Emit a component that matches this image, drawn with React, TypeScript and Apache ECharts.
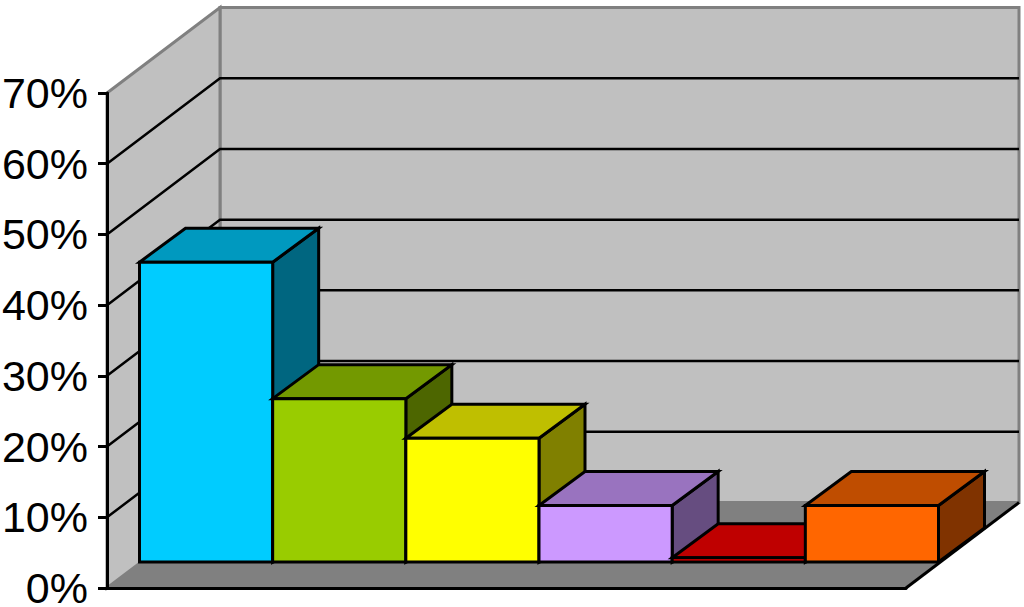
import React, { useEffect, useRef } from "react";
import * as echarts from "echarts";

const categories = ["A", "B", "C", "D", "E", "F"];
const values = [42.4, 23.1, 17.5, 8.0, 0.6, 8.0];
const frontColors = ["#00CCFF", "#99CC00", "#FFFF00", "#CC99FF", "#EE0000", "#FF6600"];
const topColors = ["#0099BF", "#739900", "#BFBF00", "#9973BF", "#BF0000", "#BF4D00"];
const sideColors = ["#006680", "#4D6600", "#808000", "#664D80", "#800000", "#803300"];
const gridValues = [10, 20, 30, 40, 50, 60];

const WALL_DX = 113;
const WALL_DY = -85.5;
const BAR_DX = 32.5;
const BAR_DY = -26;
const BAR_DEPTH_X = 46;
const BAR_DEPTH_Y = -34;

const poly = (points: number[][], fill: string, stroke: string, lineWidth = 3) => ({
  type: "polygon",
  shape: { points },
  style: { fill, stroke, lineWidth, lineJoin: "miter" },
});

export default function App() {
  const ref = useRef<HTMLDivElement>(null);
  useEffect(() => {
    const chart = echarts.init(ref.current!, null, { renderer: "svg" });
    chart.setOption({
      animation: false,
      backgroundColor: "#ffffff",
      grid: { left: 107, top: 93, width: 799, height: 495, outerBoundsMode: "none", containLabel: false },
      xAxis: {
        type: "category",
        data: categories,
        z: 5,
        axisLine: { show: true, lineStyle: { color: "#000", width: 3 } },
        axisTick: { show: false },
        axisLabel: { show: false },
        splitLine: { show: false },
      },
      yAxis: {
        type: "value",
        min: 0,
        max: 70,
        interval: 10,
        z: 5,
        axisLine: { show: true, lineStyle: { color: "#000", width: 3 } },
        axisTick: { show: true, length: 9, lineStyle: { color: "#000", width: 3 } },
        axisLabel: {
          formatter: "{value}%",
          fontFamily: "Liberation Sans",
          fontSize: 43,
          color: "#000",
          margin: 19,
          verticalAlign: "middle",
          lineHeight: 34,
          padding: [3, 0, 0, 0],
        },
        splitLine: { show: false },
      },
      series: [
        {
          type: "custom",
          z: 1,
          clip: false,
          silent: true,
          data: [[0, 0]],
          renderItem: (_p: any, api: any) => {
            const band = api.size([1, 0])[0];
            const p0 = api.coord([0, 0]);
            const p1 = api.coord([categories.length - 1, 70]);
            const l = p0[0] - band / 2;
            const r = p1[0] + band / 2;
            const b = p0[1];
            const t = p1[1];
            const bl = l + WALL_DX;
            const br = r + WALL_DX;
            const by = b + WALL_DY;
            const ty = t + WALL_DY;
            return {
              type: "group",
              children: [
                poly([[bl, ty], [br, ty], [br, by], [bl, by]], "#C0C0C0", "#808080"),
                poly([[l, t], [bl, ty], [bl, by], [l, b]], "#C0C0C0", "#808080"),
                {
                  type: "polygon",
                  shape: { points: [[l, b], [r, b], [br, by], [bl, by]] },
                  style: { fill: "#808080", stroke: "#808080", lineWidth: 1 },
                },
                {
                  type: "line",
                  shape: { x1: r, y1: b, x2: br, y2: by },
                  style: { stroke: "#000", lineWidth: 3 },
                },
              ],
            };
          },
        },
        {
          type: "custom",
          z: 2,
          clip: false,
          silent: true,
          data: gridValues.map((v) => [0, v]),
          renderItem: (_p: any, api: any) => {
            const band = api.size([1, 0])[0];
            const p = api.coord([0, api.value(1)]);
            const l = p[0] - band / 2;
            const r = api.coord([categories.length - 1, 0])[0] + band / 2;
            return {
              type: "polyline",
              shape: {
                points: [
                  [l, p[1]],
                  [l + WALL_DX, p[1] + WALL_DY],
                  [r + WALL_DX, p[1] + WALL_DY],
                ],
              },
              style: { fill: "none", stroke: "#000", lineWidth: 2.5 },
            };
          },
        },
        {
          type: "custom",
          z: 3,
          clip: false,
          silent: true,
          data: values.map((v, i) => [i, v]),
          renderItem: (p: any, api: any) => {
            const i = api.value(0);
            const band = api.size([1, 0])[0];
            const top = api.coord([i, api.value(1)]);
            const base = api.coord([i, 0]);
            const x0 = top[0] - band / 2 + BAR_DX;
            const x1 = top[0] + band / 2 + BAR_DX;
            const y0 = top[1] + BAR_DY;
            const y1 = base[1] + BAR_DY;
            const dx = BAR_DEPTH_X;
            const dy = BAR_DEPTH_Y;
            return {
              type: "group",
              children: [
                poly([[x1, y0], [x1 + dx, y0 + dy], [x1 + dx, y1 + dy], [x1, y1]], sideColors[i], "#000"),
                poly([[x0, y0], [x0 + dx, y0 + dy], [x1 + dx, y0 + dy], [x1, y0]], topColors[i], "#000"),
                poly([[x0, y0], [x1, y0], [x1, y1], [x0, y1]], frontColors[i], "#000"),
              ],
            };
          },
        },
      ],
    });
    return () => chart.dispose();
  }, []);
  return <div ref={ref} style={{ position: "fixed", left: 0, top: 0, width: 1024, height: 607 }} />;
}
